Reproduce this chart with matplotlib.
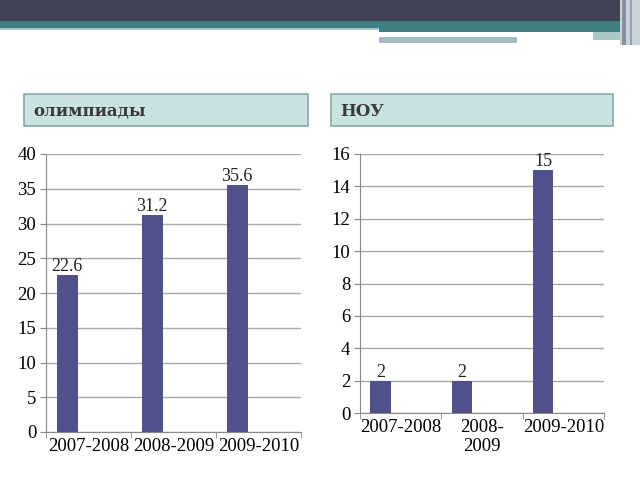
import matplotlib.pyplot as plt
from matplotlib.patches import Rectangle

# data
years_left = ['2007-2008', '2008-2009', '2009-2010']
olymp = [22.6, 31.2, 35.6]
years_right = ['2007-2008', '2008-\n2009', '2009-2010']
nou = [2, 2, 15]

BAR = '#50508a'
W, H = 640, 480

plt.rcParams['font.family'] = ['Liberation Serif', 'DejaVu Serif']

fig = plt.figure(figsize=(6.4, 4.8), dpi=100)


def px_rect(x0, y0, x1, y1, color, z=1):
    # rectangle in pixel coords measured from the top-left corner
    fig.patches.append(Rectangle((x0 / W, 1 - y1 / H), (x1 - x0) / W, (y1 - y0) / H,
                                 transform=fig.transFigure, facecolor=color,
                                 edgecolor='none', zorder=z))


# slide banner at top
px_rect(0, 0, 640, 21, '#424257')
px_rect(0, 21, 640, 28, '#3f8080')
px_rect(0, 28, 379, 30, '#a8c8c8')
px_rect(379, 28, 620, 32, '#3f8080')
px_rect(379, 34, 593, 37, '#ffffff')
px_rect(379, 37, 517, 43, '#9fbcbf')
px_rect(593, 32, 620, 40, '#a8c8c8')
px_rect(620, 0, 640, 45, '#c8d4d8')
px_rect(622, 0, 626, 45, '#8a90a0')
px_rect(630, 0, 632, 45, '#9aa0b0')

# header boxes
for x0, x1, txt in [(24, 308, 'олимпиады'), (331, 613, 'НОУ')]:
    fig.patches.append(Rectangle((x0 / W, 1 - 126 / H), (x1 - x0) / W, 32 / H,
                                 transform=fig.transFigure, facecolor='#c9e3e3',
                                 edgecolor='#8aa7a7', linewidth=1.2))
    fig.text((x0 + 9) / W, 1 - 111 / H, txt, fontsize=12, fontweight='bold',
             family=['DejaVu Serif'], color='#3a3a3a', va='center', ha='left')


def draw(ax, labels, vals, ymax, step):
    x = range(len(vals))
    bars = ax.bar([i - 0.25 for i in x], vals, width=0.25, color=BAR, zorder=3)
    for b, v in zip(bars, vals):
        ax.text(b.get_x() + b.get_width() / 2, v, f'{v:g}', ha='center', va='bottom',
                fontsize=13, color='#222222')
    ax.set_xlim(-0.5, len(vals) - 0.5)
    ax.set_ylim(0, ymax)
    ax.set_yticks(range(0, ymax + 1, step))
    ax.set_xticks(list(x))
    ax.set_xticklabels(labels)
    ax.set_xticks([i - 0.5 for i in range(len(vals) + 1)], minor=True)
    ax.tick_params(axis='x', which='major', length=0, labelsize=13.5, pad=4)
    ax.tick_params(axis='x', which='minor', length=4, color='#888888')
    ax.tick_params(axis='y', length=4, color='#888888', labelsize=13.5, pad=3)
    ax.yaxis.grid(True, color='#a8a8a8', linewidth=1, zorder=0)
    for s in ['top', 'right']:
        ax.spines[s].set_visible(False)
    for s in ['left', 'bottom']:
        ax.spines[s].set_color('#888888')


ax1 = fig.add_axes([46 / W, 1 - 432 / H, (301 - 46) / W, (432 - 154) / H])
draw(ax1, years_left, olymp, 40, 5)
ax2 = fig.add_axes([360 / W, 1 - 413 / H, (604 - 360) / W, (413 - 154) / H])
draw(ax2, years_right, nou, 16, 2)

fig.savefig('out.png', dpi=100)
